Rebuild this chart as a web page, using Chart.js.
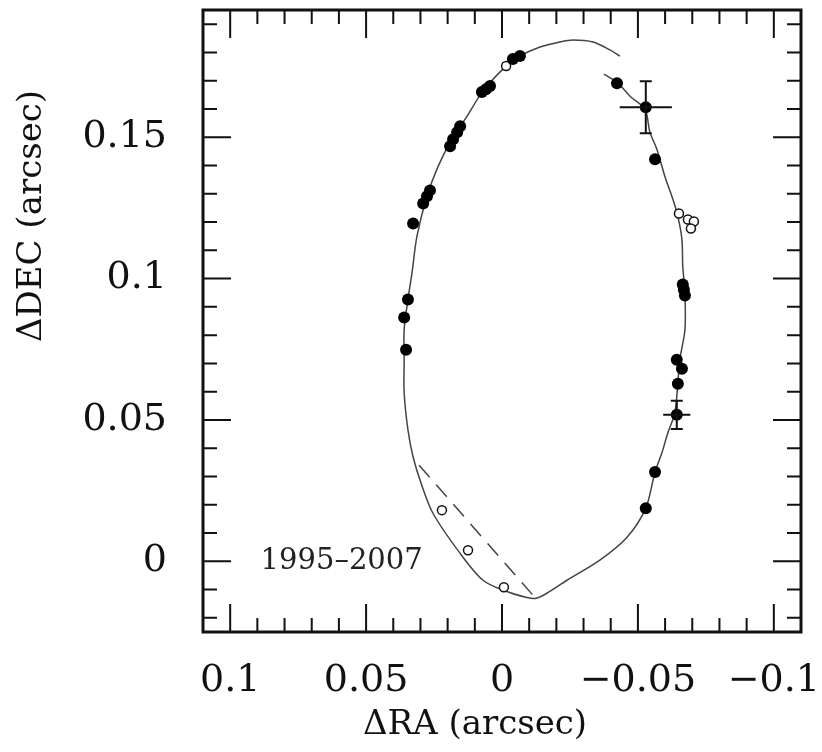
<!DOCTYPE html>
<html>
<head>
<meta charset="utf-8">
<script src="https://cdn.jsdelivr.net/npm/chart.js@4"></script>
<style>
  html, body { margin: 0; padding: 0; background: #fff; }
</style>
</head>
<body>
<canvas id="orbita" width="822" height="752"></canvas>
<script>
// === DATOS ===
// orbita ajustada (linea continua)
const orbitX = [-0.0375, -0.0423, -0.0471, -0.0526, -0.0544, -0.0570, -0.0599, -0.0629, -0.0647, -0.0662,
    -0.0665, -0.0673, -0.0673, -0.0654, -0.0647, -0.0636, -0.0610, -0.0588, -0.0563, -0.0529,
    -0.0460, -0.0360, -0.0239, -0.0165, -0.0125, -0.0092, -0.0007, 0.0070, 0.0154, 0.0254,
    0.0298, 0.0327, 0.0346, 0.0360, 0.0360, 0.0360, 0.0346, 0.0331, 0.0313, 0.0276,
    0.0235, 0.0184, 0.0129, 0.0070, -0.0011, -0.0066, -0.0140, -0.0213, -0.0261, -0.0335,
    -0.0397, -0.0434];
const orbitY = [0.1723, 0.1695, 0.1645, 0.1599, 0.1518, 0.1457, 0.1362, 0.1280, 0.1220, 0.1138,
    0.1043, 0.0950, 0.0819, 0.0713, 0.0631, 0.0525, 0.0454, 0.0383, 0.0316, 0.0188,
    0.0085, 0.0004, -0.0067, -0.0113, -0.0131, -0.0128, -0.0103, -0.0067, 0.0028, 0.0170,
    0.0277, 0.0369, 0.0465, 0.0596, 0.0702, 0.0819, 0.0926, 0.1021, 0.1149, 0.1291,
    0.1397, 0.1493, 0.1574, 0.1663, 0.1748, 0.1787, 0.1819, 0.1837, 0.1844, 0.1837,
    0.1809, 0.1787];

// linea discontinua
const dashX = [0.0305, -0.0121];
const dashY = [0.0340, -0.0128];

// puntos llenos
const fillX = [0.0327, 0.0290, 0.0276, 0.0265, 0.0191, 0.0180, 0.0165, 0.0154, 0.0074, 0.0059,
    0.0044, -0.0040, -0.0066, -0.0423, -0.0529, -0.0563, -0.0665, -0.0669, -0.0673, -0.0643,
    -0.0662, -0.0647, -0.0643, -0.0563, -0.0529, 0.0346, 0.0360, 0.0353];
const fillY = [0.1195, 0.1266, 0.1291, 0.1312, 0.1468, 0.1493, 0.1518, 0.1539, 0.1660, 0.1670,
    0.1681, 0.1777, 0.1787, 0.1691, 0.1606, 0.1422, 0.0979, 0.0961, 0.0940, 0.0713,
    0.0681, 0.0628, 0.0518, 0.0316, 0.0188, 0.0926, 0.0862, 0.0748];

// puntos abiertos
const openX = [-0.0015, -0.0651, -0.0684, -0.0706, -0.0695, 0.0221, 0.0125, -0.0007];
const openY = [0.1752, 0.1230, 0.1209, 0.1202, 0.1177, 0.0181, 0.0039, -0.0092];

// barras de error
const errX = [-0.0529, -0.0643];
const errY = [0.1606, 0.0518];
const errDX = [0.0096, 0.0050];
const errDY = [0.0092, 0.0050];

// ejes
const xTicks = [0.1, 0.05, 0, -0.05, -0.1];
const xTickLabels = ["0.1", "0.05", "0", "\u22120.05", "\u22120.1"];
const yTicks = [0, 0.05, 0.1, 0.15];
const yTickLabels = ["0", "0.05", "0.1", "0.15"];
const xTitle = "\u0394RA (arcsec)";
const yTitle = "\u0394DEC (arcsec)";
const rotulo = "1995\u20132007";

const pares = (xs, ys) => xs.map((x, i) => ({ x: x, y: ys[i] }));

// === DECORACION: marco, ticks hacia dentro, barras de error, titulos ===
const decor = {
    id: "decor",
    afterDatasetsDraw(chart) {
        const { ctx, scales: { x, y } } = chart;
        ctx.save();
        ctx.strokeStyle = "#111";
        ctx.lineWidth = 2;
        errX.forEach((v, i) => {
            const px = x.getPixelForValue(v), py = y.getPixelForValue(errY[i]);
            const x1 = x.getPixelForValue(v - errDX[i]), x2 = x.getPixelForValue(v + errDX[i]);
            const y1 = y.getPixelForValue(errY[i] - errDY[i]), y2 = y.getPixelForValue(errY[i] + errDY[i]);
            ctx.beginPath();
            ctx.moveTo(x1, py); ctx.lineTo(x2, py);
            ctx.moveTo(px, y1); ctx.lineTo(px, y2);
            ctx.moveTo(px - 6, y1); ctx.lineTo(px + 6, y1);
            ctx.moveTo(px - 6, y2); ctx.lineTo(px + 6, y2);
            ctx.stroke();
        });
        ctx.restore();
    },
    afterDraw(chart) {
        const { ctx, chartArea: a, scales: { x, y } } = chart;
        ctx.save();
        ctx.strokeStyle = "#111";
        ctx.lineWidth = 2;
        ctx.beginPath();
        for (let i = -10; i <= 10; i++) {
            const px = x.getPixelForValue(i / 100);
            const len = i % 5 === 0 ? 28 : 14;
            ctx.moveTo(px, a.bottom); ctx.lineTo(px, a.bottom - len);
            ctx.moveTo(px, a.top); ctx.lineTo(px, a.top + len);
        }
        for (let i = -2; i <= 19; i++) {
            const py = y.getPixelForValue(i / 100);
            if (py < a.top || py > a.bottom) continue;
            const len = i % 5 === 0 ? 28 : 14;
            ctx.moveTo(a.left, py); ctx.lineTo(a.left + len, py);
            ctx.moveTo(a.right, py); ctx.lineTo(a.right - len, py);
        }
        ctx.stroke();

        // marco
        ctx.lineWidth = 3;
        ctx.strokeRect(a.left, a.top, a.right - a.left, a.bottom - a.top);

        // rotulo de fechas
        ctx.fillStyle = "#222";
        ctx.font = "29px 'DejaVu Serif'";
        ctx.textAlign = "center";
        ctx.textBaseline = "middle";
        ctx.fillText(rotulo, x.getPixelForValue(0.059), y.getPixelForValue(0));

        // titulos de ejes
        ctx.fillStyle = "#111";
        ctx.font = "34px 'DejaVu Serif'";
        ctx.fillText(xTitle, a.left + 272, 725);
        ctx.translate(32, 216);
        ctx.rotate(-Math.PI / 2);
        ctx.fillText(yTitle, 0, 0);
        ctx.restore();
    }
};

const fuenteTicks = { family: "'DejaVu Serif'", size: 38 };

new Chart(document.getElementById("orbita"), {
    type: "scatter",
    data: {
        datasets: [
            {
                data: pares(fillX, fillY),
                pointRadius: 6,
                pointBackgroundColor: "#000",
                pointBorderColor: "#000",
                borderWidth: 0,
                order: 0
            },
            {
                data: pares(openX, openY),
                pointRadius: 4.5,
                pointBackgroundColor: "#fff",
                pointBorderColor: "#111",
                pointBorderWidth: 1.5,
                order: 1
            },
            {
                data: pares(orbitX, orbitY),
                showLine: true,
                pointRadius: 0,
                borderColor: "#444",
                borderWidth: 1.5,
                tension: 0.3,
                order: 2
            },
            {
                data: pares(dashX, dashY),
                showLine: true,
                pointRadius: 0,
                borderColor: "#444",
                borderWidth: 1.5,
                borderDash: [16, 10],
                order: 3
            }
        ]
    },
    options: {
        responsive: false,
        animation: false,
        layout: { padding: { top: 10, right: 21, left: 0, bottom: 0 } },
        plugins: { legend: { display: false }, tooltip: { enabled: false } },
        scales: {
            x: {
                type: "linear",
                min: -0.11,
                max: 0.11,
                reverse: true,
                grid: { display: false },
                border: { display: false },
                afterBuildTicks: (s) => { s.ticks = xTicks.map(v => ({ value: v })); },
                afterFit: (s) => {
                    s.height = 120;
                    s.paddingLeft = 0;
                    s.paddingRight = 0;
                },
                ticks: {
                    font: fuenteTicks,
                    color: "#111",
                    padding: 18,
                    maxRotation: 0,
                    autoSkip: false,
                    callback: (v) => xTickLabels[xTicks.indexOf(v)]
                }
            },
            y: {
                type: "linear",
                min: -0.025,
                max: 0.195,
                grid: { display: false },
                border: { display: false },
                afterBuildTicks: (s) => { s.ticks = yTicks.map(v => ({ value: v })); },
                afterFit: (s) => {
                    s.width = 203;
                    s.paddingTop = 0;
                    s.paddingBottom = 0;
                },
                ticks: {
                    font: fuenteTicks,
                    color: "#111",
                    padding: 28,
                    autoSkip: false,
                    callback: (v) => yTickLabels[yTicks.indexOf(v)]
                }
            }
        }
    },
    plugins: [decor]
});
</script>
</body>
</html>
